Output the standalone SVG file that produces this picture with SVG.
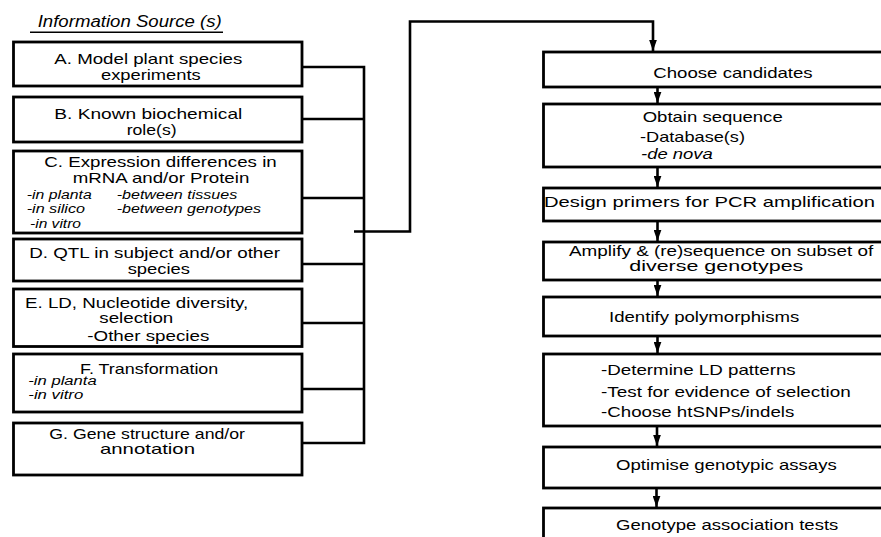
<svg xmlns="http://www.w3.org/2000/svg" width="881" height="537" viewBox="0 0 881 537">
  <style>
    .box { fill: #fff; stroke: #000; stroke-width: 2.8; }
    .wire { fill: none; stroke: #000; stroke-width: 2.6; }
    .t { font-family: "Liberation Sans", Arial, sans-serif; font-size: 15px; fill: #000; }
    .i { font-family: "Liberation Sans", Arial, sans-serif; font-size: 12.5px; font-style: italic; fill: #000; }
    .it { font-style: italic; }
  </style>
  <defs>
    <marker id="arrow" markerUnits="userSpaceOnUse" markerWidth="8" markerHeight="11" refX="3.5" refY="10" orient="0" viewBox="0 0 7 10">
      <path d="M0,0 L7,0 L3.5,10 Z" fill="#000"/>
    </marker>
  </defs>
  <rect width="881" height="537" fill="#fff"/>

  <!-- heading -->
  <g id="heading">
    <text class="t it" x="37.7" y="26.7" style="font-size:16px" textLength="184" lengthAdjust="spacingAndGlyphs">Information Source (s)</text>
    <line x1="30" y1="32.3" x2="223" y2="32.3" stroke="#000" stroke-width="1.4"/>
  </g>

  <!-- connectors -->
  <g id="connectors">
    <path class="wire" d="M302,67 H364 V443 H302 M302,119 H364 M302,198 H364 M302,264 H364 M302,323 H364 M302,389 H364"/>
    <path class="wire" d="M354,231.5 H410 V21.5 H653 V51" marker-end="url(#arrow)"/>
    <line class="wire" x1="657.5" y1="87" x2="657.5" y2="103" marker-end="url(#arrow)"/>
    <line class="wire" x1="657.5" y1="167" x2="657.5" y2="187" marker-end="url(#arrow)"/>
    <line class="wire" x1="657.5" y1="221" x2="657.5" y2="241" marker-end="url(#arrow)"/>
    <line class="wire" x1="657.5" y1="280" x2="657.5" y2="296" marker-end="url(#arrow)"/>
    <line class="wire" x1="657.5" y1="336" x2="657.5" y2="353" marker-end="url(#arrow)"/>
    <line class="wire" x1="657" y1="426" x2="657" y2="446" marker-end="url(#arrow)"/>
    <line class="wire" x1="656.5" y1="488" x2="656.5" y2="507" marker-end="url(#arrow)"/>
  </g>

  <!-- information sources -->
  <g id="srcA">
    <rect class="box" x="13.5" y="42" width="288.5" height="44"/>
    <text class="t" x="54.3" y="64" textLength="188" lengthAdjust="spacingAndGlyphs">A. Model plant species</text>
    <text class="t" x="101" y="79.5" textLength="99.7" lengthAdjust="spacingAndGlyphs">experiments</text>
  </g>
  <g id="srcB">
    <rect class="box" x="13.5" y="97" width="288.5" height="45"/>
    <text class="t" x="54.3" y="119" textLength="188" lengthAdjust="spacingAndGlyphs">B. Known biochemical</text>
    <text class="t" x="126.7" y="134.5" textLength="50" lengthAdjust="spacingAndGlyphs">role(s)</text>
  </g>
  <g id="srcC">
    <rect class="box" x="13.5" y="151" width="288.5" height="82"/>
    <text class="t" x="44.3" y="166.5" textLength="232.4" lengthAdjust="spacingAndGlyphs">C. Expression differences in</text>
    <text class="t" x="72.7" y="183" textLength="176.6" lengthAdjust="spacingAndGlyphs">mRNA and/or Protein</text>
    <text class="i" x="26.7" y="199" textLength="65" lengthAdjust="spacingAndGlyphs">-in planta</text>
    <text class="i" x="116.7" y="199" textLength="120.6" lengthAdjust="spacingAndGlyphs">-between tissues</text>
    <text class="i" x="26.7" y="213" textLength="58.3" lengthAdjust="spacingAndGlyphs">-in silico</text>
    <text class="i" x="116.7" y="213" textLength="144.3" lengthAdjust="spacingAndGlyphs">-between genotypes</text>
    <text class="i" x="30" y="227.5" textLength="51" lengthAdjust="spacingAndGlyphs">-in vitro</text>
  </g>
  <g id="srcD">
    <rect class="box" x="13.5" y="239" width="288.5" height="42"/>
    <text class="t" x="29.3" y="258" textLength="250.7" lengthAdjust="spacingAndGlyphs">D. QTL in subject and/or other</text>
    <text class="t" x="127.7" y="274.3" textLength="62.3" lengthAdjust="spacingAndGlyphs">species</text>
  </g>
  <g id="srcE">
    <rect class="box" x="13.5" y="289" width="288.5" height="57.5"/>
    <text class="t" x="25" y="307.5" textLength="223.3" lengthAdjust="spacingAndGlyphs">E. LD, Nucleotide diversity,</text>
    <text class="t" x="99.3" y="323" textLength="74" lengthAdjust="spacingAndGlyphs">selection</text>
    <text class="t" x="87.3" y="340.5" textLength="122" lengthAdjust="spacingAndGlyphs">-Other species</text>
  </g>
  <g id="srcF">
    <rect class="box" x="13.5" y="354" width="288.5" height="58"/>
    <text class="t" x="80" y="373.5" textLength="138.3" lengthAdjust="spacingAndGlyphs">F. Transformation</text>
    <text class="i" x="28.3" y="385" style="font-size:12px" textLength="68.4" lengthAdjust="spacingAndGlyphs">-in planta</text>
    <text class="i" x="28.3" y="399" style="font-size:12px" textLength="55" lengthAdjust="spacingAndGlyphs">-in vitro</text>
  </g>
  <g id="srcG">
    <rect class="box" x="13.5" y="423" width="288.5" height="52"/>
    <text class="t" x="49.3" y="438.5" textLength="195.7" lengthAdjust="spacingAndGlyphs">G. Gene structure and/or</text>
    <text class="t" x="100" y="454" textLength="95" lengthAdjust="spacingAndGlyphs">annotation</text>
  </g>

  <!-- pipeline steps -->
  <g id="step1">
    <rect class="box" x="543.5" y="52" width="350" height="35"/>
    <text class="t" x="653.3" y="78.3" textLength="159.4" lengthAdjust="spacingAndGlyphs">Choose candidates</text>
  </g>
  <g id="step2">
    <rect class="box" x="543.5" y="104" width="350" height="63"/>
    <text class="t" x="642.7" y="121.7" textLength="140" lengthAdjust="spacingAndGlyphs">Obtain sequence</text>
    <text class="t" x="640" y="141.7" textLength="105" lengthAdjust="spacingAndGlyphs">-Database(s)</text>
    <text class="t it" x="641" y="159.3" textLength="71.7" lengthAdjust="spacingAndGlyphs">-de nova</text>
  </g>
  <g id="step3">
    <rect class="box" x="543.5" y="188" width="350" height="33"/>
    <text class="t" x="544" y="206.7" textLength="331" lengthAdjust="spacingAndGlyphs">Design primers for PCR amplification</text>
  </g>
  <g id="step4">
    <rect class="box" x="543.5" y="242" width="350" height="38"/>
    <text class="t" x="569" y="255.5" textLength="304.3" lengthAdjust="spacingAndGlyphs">Amplify &amp; (re)sequence on subset of</text>
    <text class="t" x="629.3" y="271.3" textLength="174" lengthAdjust="spacingAndGlyphs">diverse genotypes</text>
  </g>
  <g id="step5">
    <rect class="box" x="543.5" y="297" width="350" height="39"/>
    <text class="t" x="609" y="321.7" textLength="190.3" lengthAdjust="spacingAndGlyphs">Identify polymorphisms</text>
  </g>
  <g id="step6">
    <rect class="box" x="543.5" y="354" width="350" height="72"/>
    <text class="t" x="601" y="375" textLength="194.7" lengthAdjust="spacingAndGlyphs">-Determine LD patterns</text>
    <text class="t" x="601" y="396.7" textLength="249.7" lengthAdjust="spacingAndGlyphs">-Test for evidence of selection</text>
    <text class="t" x="601" y="416.7" textLength="193.3" lengthAdjust="spacingAndGlyphs">-Choose htSNPs/indels</text>
  </g>
  <g id="step7">
    <rect class="box" x="543.5" y="447" width="350" height="41"/>
    <text class="t" x="616" y="470" textLength="220.7" lengthAdjust="spacingAndGlyphs">Optimise genotypic assays</text>
  </g>
  <g id="step8">
    <rect class="box" x="543.5" y="508" width="350" height="45"/>
    <text class="t" x="616" y="530" textLength="222.3" lengthAdjust="spacingAndGlyphs">Genotype association tests</text>
  </g>
</svg>
